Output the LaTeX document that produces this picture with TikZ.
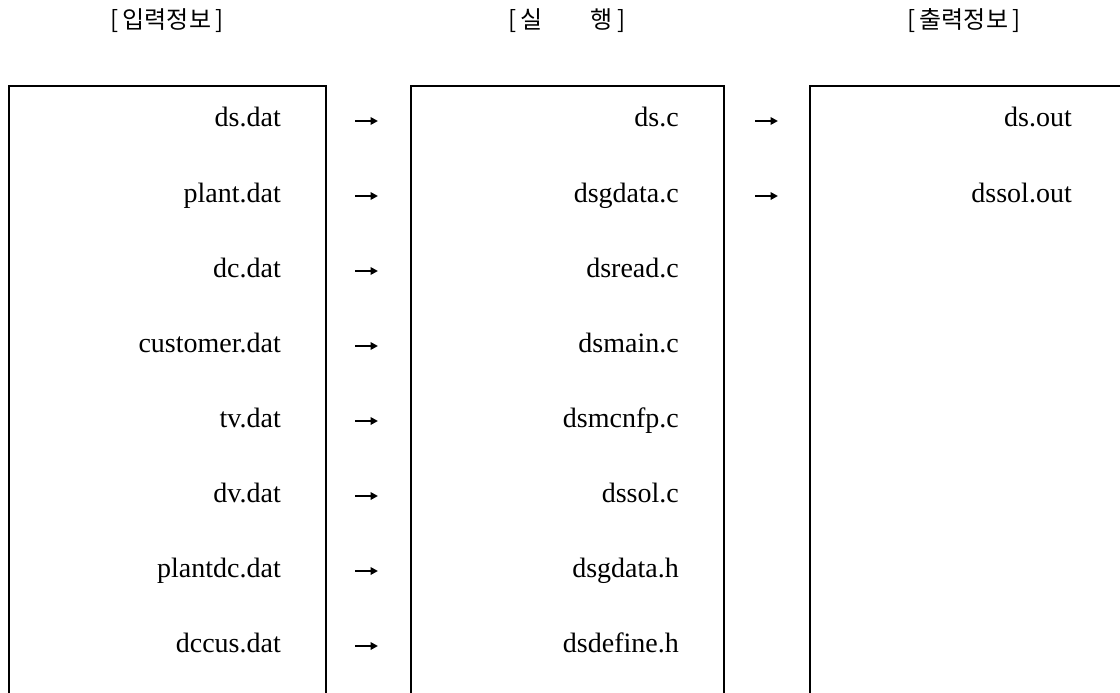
\documentclass[tikz,border=0pt]{standalone}
\usepackage{fontspec}
\setmainfont{Liberation Serif}
\newfontfamily\krfont{Noto Sans CJK KR}
\usetikzlibrary{arrows.meta}
\begin{document}
\begin{tikzpicture}[x=1pt,y=-1pt,
  box/.style={line width=1.7pt, line join=miter},
  item/.style={anchor=base east, inner sep=0pt, font=\fontsize{28}{32}\selectfont},
  hdr/.style={anchor=center, inner sep=0pt, font=\krfont\fontsize{24}{28}\selectfont},
  arr/.style={line width=1.9pt, -{Triangle[length=7.5pt,width=7.5pt]}}]
\useasboundingbox (0,0) rectangle (1120,693);
\fill[white] (0,0) rectangle (1120,693);
\begin{scope}
\clip (0,0) rectangle (1120,693);
% headers
\node[hdr] (h1) at (167,21) {[\,입력정보\,]};
\node[hdr] (h2) at (567,21) {[\,실\hspace{2em}행\,]};
\node[hdr] (h3) at (964,21) {[\,출력정보\,]};
% boxes
\draw[box] (9,700) -- (9,86) -- (326,86) -- (326,700);
\draw[box] (411,700) -- (411,86) -- (724,86) -- (724,700);
\draw[box] (810,700) -- (810,86) -- (1130,86);
% input column
\foreach \t [count=\i] in {ds.dat,plant.dat,dc.dat,customer.dat,tv.dat,dv.dat,plantdc.dat,dccus.dat}{
  \node[item] (in\i) at (281,{127+75*(\i-1)}) {\t};
  \coordinate (as\i) at (355,{121+75*(\i-1)});
  \coordinate (ae\i) at (378,{121+75*(\i-1)});
  \draw[arr] (as\i) -- (ae\i);
}
% execution column
\foreach \t [count=\i] in {ds.c,dsgdata.c,dsread.c,dsmain.c,dsmcnfp.c,dssol.c,dsgdata.h,dsdefine.h}{
  \node[item] (ex\i) at (679,{127+75*(\i-1)}) {\t};
}
\foreach \i in {1,2}{
  \coordinate (bs\i) at (755,{121+75*(\i-1)});
  \coordinate (be\i) at (778,{121+75*(\i-1)});
  \draw[arr] (bs\i) -- (be\i);
}
% output column
\node[item] (out1) at (1072,127) {ds.out};
\node[item] (out2) at (1072,202) {dssol.out};
\end{scope}
\end{tikzpicture}
\end{document}
